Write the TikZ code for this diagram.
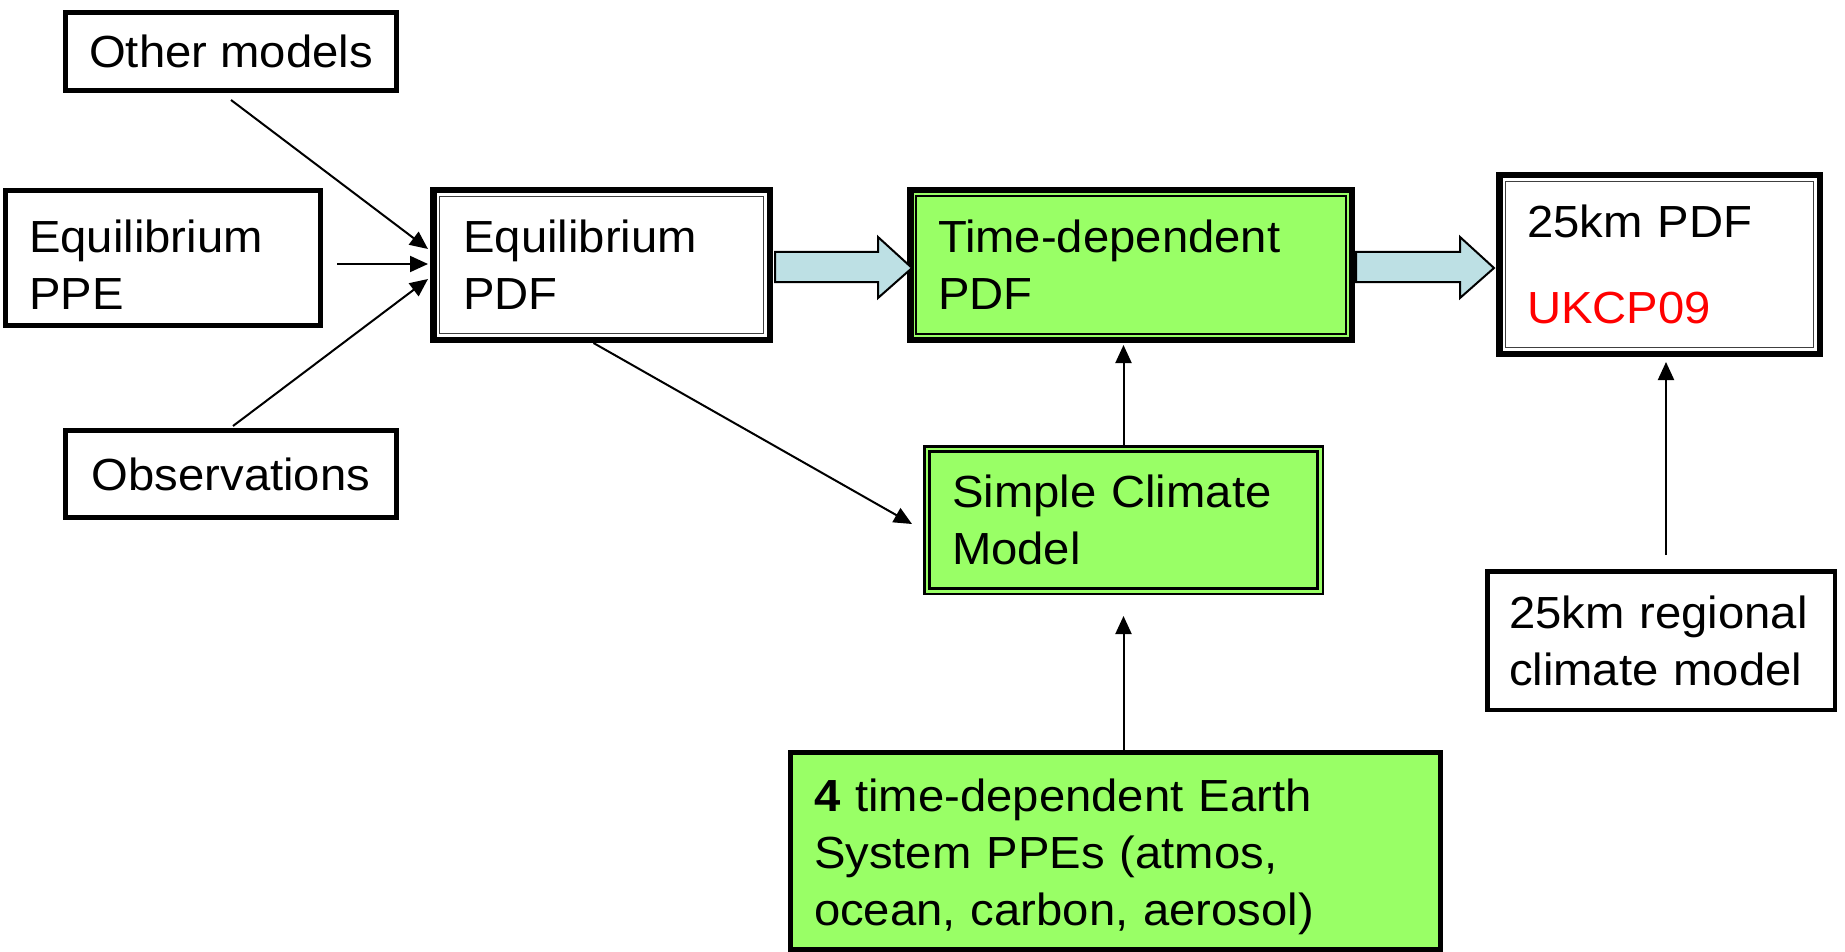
\documentclass[tikz,border=0pt]{standalone}
\usepackage{fontspec}
\setmainfont{Liberation Sans}[FakeStretch=1.05]
\usetikzlibrary{arrows.meta,calc}

\definecolor{boxgreen}{RGB}{153,255,102}
\definecolor{arrowblue}{RGB}{189,224,228}
\definecolor{ukred}{RGB}{255,0,0}

% wide hollow arrow between two boxes: tail at #1, tip at #2
\newcommand\fatarrow[2]{%
  \draw[blockarrow] let \p1=(#1), \p2=(#2) in
    (\x1,{\y1+13pt}) -- ({\x2-34pt},{\y1+13pt}) -- ({\x2-34pt},{\y1+28pt})
    -- (\x2,{\y1-3pt}) -- ({\x2-34pt},{\y1-33pt}) -- ({\x2-34pt},{\y1-17pt})
    -- (\x1,{\y1-17pt}) -- cycle;}

\begin{document}
\begin{tikzpicture}[x=1pt,y=-1pt,
  txt/.style={font=\fontsize{45pt}{57pt}\selectfont, inner ysep=0pt},
  sbox/.style={txt, draw=black, fill=white, line width=5pt},
  heavybox/.style={txt, draw=black, line width=6.5pt, align=left},
  innerline/.style={line width=1.5pt, draw=black!75},
  blockarrow/.style={draw=black, line width=2pt, fill=arrowblue, line join=miter},
  conn/.style={draw=black, line width=2pt, -{Triangle[length=18pt 0 0,width=16pt 0 0]}}]

\fill[white] (0,0) rectangle (1845,952);
\useasboundingbox (0,0) rectangle (1845,952);

% input boxes on the left
\node[sbox, minimum width=331pt, minimum height=78pt] (om) at (231,51.5) {Other models};
\node[sbox, minimum width=315pt, minimum height=135pt, inner xsep=23.5pt,
      text width=268pt, align=left] (ppe) at (163,258) {\rule{0pt}{46pt}Equilibrium\\PPE};
\node[sbox, minimum width=331pt, minimum height=87pt] (obs) at (231,474) {Observations};

% main chain of PDFs
\node[heavybox, fill=white, minimum width=336.5pt, minimum height=149.5pt,
      inner xsep=30pt, text width=276.5pt] (epdf) at (601.5,265) {Equilibrium\\PDF};
\node[heavybox, fill=boxgreen, minimum width=441.5pt, minimum height=149.5pt,
      inner xsep=27.75pt, text width=386pt] (tdpdf) at (1131,265) {Time-dependent\\PDF};
\node[heavybox, fill=white, minimum width=320.5pt, minimum height=178.5pt,
      inner xsep=27.75pt, text width=265pt] (p25) at (1659.5,264.5)
      {25km PDF\\[29pt]\textcolor{ukred}{UKCP09}};

\draw[innerline] ([xshift=9.5pt,yshift=-9.5pt]epdf.north west) rectangle ([xshift=-9.5pt,yshift=9.5pt]epdf.south east);
\draw[innerline, draw=black] ([xshift=9pt,yshift=-9pt]tdpdf.north west) rectangle ([xshift=-9pt,yshift=9pt]tdpdf.south east);
\draw[innerline] ([xshift=9.5pt,yshift=-9.5pt]p25.north west) rectangle ([xshift=-9.5pt,yshift=9.5pt]p25.south east);

% simple climate model
\node[txt, draw=black, fill=boxgreen, line width=2.5pt, align=left,
      minimum width=398.5pt, minimum height=147.5pt, inner xsep=27.75pt,
      text width=343pt] (scm) at (1123.5,520) {Simple Climate\\Model};
\draw[line width=2.2pt] ([xshift=6.5pt,yshift=-6.5pt]scm.north west) rectangle ([xshift=-6.5pt,yshift=6.5pt]scm.south east);

% regional model and Earth system ensembles
\node[sbox, line width=4.5pt, minimum width=347.5pt, minimum height=138.5pt,
      inner xsep=21.75pt, text width=304pt, align=left] (reg) at (1661,640.5)
      {25km regional\\climate model};
\node[sbox, fill=boxgreen, minimum width=650pt, minimum height=197pt,
      inner xsep=23.5pt, text width=603pt, align=left] (ppes) at (1115.5,851)
      {\rule{0pt}{45pt}\textbf{4} time-dependent Earth\\System PPEs (atmos,\\ocean, carbon, aerosol)};

% wide arrows along the chain
\fatarrow{$(epdf.east)+(2,0)$}{$(tdpdf.west)+(5,0)$}
\fatarrow{$(tdpdf.east)+(1,0)$}{$(p25.west)+(-2,0)$}

% thin connectors
\draw[conn] ($(om.south)+(0,7)$) -- ($(epdf.west)+(-2,-16)$);
\draw[conn] ($(ppe.east)+(14,6)$) -- ($(epdf.west)+(-2,-1)$);
\draw[conn] ($(obs.north)+(2,-2)$) -- ($(epdf.west)+(-2,14)$);
\draw[conn] ($(epdf.south)+(-8,0)$) -- ($(scm.west)+(-11,4)$);
\draw[conn] (scm.north) -- ($(scm.north |- tdpdf.south)+(0,2)$);
\draw[conn] (scm.south |- ppes.north) -- ($(scm.south)+(0,21)$);
\coordinate (regtop) at ($(reg.north)+(5,-14)$);
\draw[conn] (regtop) -- ($(regtop |- p25.south)+(0,5)$);
\end{tikzpicture}
\end{document}
